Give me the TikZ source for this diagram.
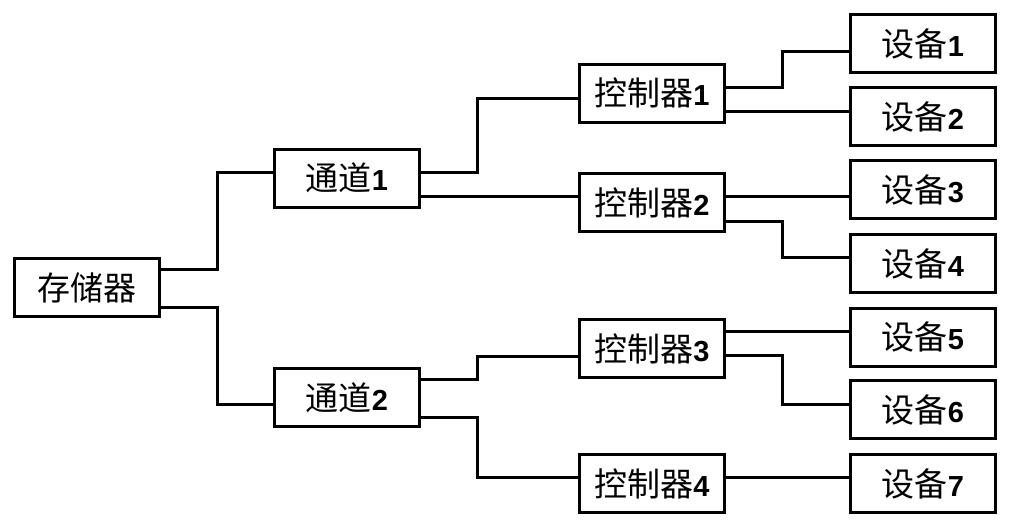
\documentclass[tikz,border=0pt]{standalone}
\usepackage{fontspec}
\newfontfamily\cjkfont{Noto Sans CJK SC}
\newfontfamily\numfont{Liberation Sans}
\newcommand{\lbl}[2]{{\cjkfont\fontsize{33}{34}\selectfont #1}{\numfont\bfseries\fontsize{29}{34}\selectfont #2}}
\begin{document}
\begin{tikzpicture}[x=1pt,y=-1pt,
  box/.style={draw,line width=3pt,minimum width=145pt,minimum height=58pt,inner sep=0pt,anchor=center},
  wire/.style={line width=3pt,line join=miter}]
\useasboundingbox (0,0) rectangle (1011,528);
\node[box] (mem) at (87,287.5) {\lbl{存储器}{}};
\node[box] (ch1) at (347,178) {\lbl{通道}{1}};
\node[box] (ch2) at (347,397.5) {\lbl{通道}{2}};
\node[box] (c1) at (652,93) {\lbl{控制器}{1}};
\node[box] (c2) at (652,202.5) {\lbl{控制器}{2}};
\node[box] (c3) at (652,348.5) {\lbl{控制器}{3}};
\node[box] (c4) at (652,483.5) {\lbl{控制器}{4}};
\node[box] (d1) at (923,43.5) {\lbl{设备}{1}};
\node[box] (d2) at (923,116.5) {\lbl{设备}{2}};
\node[box] (d3) at (923,189.5) {\lbl{设备}{3}};
\node[box] (d4) at (923,263.5) {\lbl{设备}{4}};
\node[box] (d5) at (923,337) {\lbl{设备}{5}};
\node[box] (d6) at (923,409.5) {\lbl{设备}{6}};
\node[box] (d7) at (923,483.5) {\lbl{设备}{7}};
% memory to channels
\draw[wire] (mem.east |- 0,269) -| (217,172) -- (ch1.west |- 0,172);
\draw[wire] (mem.east |- 0,307) -| (217,404) -- (ch2.west |- 0,404);
% channels to controllers
\draw[wire] (ch1.east |- 0,172) -| (477,98) -- (c1.west |- 0,98);
\draw[wire] (ch1.east |- 0,196) -- (c2.west |- 0,196);
\draw[wire] (ch2.east |- 0,379) -| (477,356) -- (c3.west |- 0,356);
\draw[wire] (ch2.east |- 0,417) -| (477,477) -- (c4.west |- 0,477);
% controllers to devices
\draw[wire] (c1.east |- 0,87) -| (782,51) -- (d1.west |- 0,51);
\draw[wire] (c1.east |- 0,111) -- (d2.west |- 0,111);
\draw[wire] (c2.east |- 0,196) -- (d3.west |- 0,196);
\draw[wire] (c2.east |- 0,221) -| (782,257) -- (d4.west |- 0,257);
\draw[wire] (c3.east |- 0,331) -- (d5.west |- 0,331);
\draw[wire] (c3.east |- 0,355) -| (782,404) -- (d6.west |- 0,404);
\draw[wire] (c4.east |- 0,477) -- (d7.west |- 0,477);
\end{tikzpicture}
\end{document}
